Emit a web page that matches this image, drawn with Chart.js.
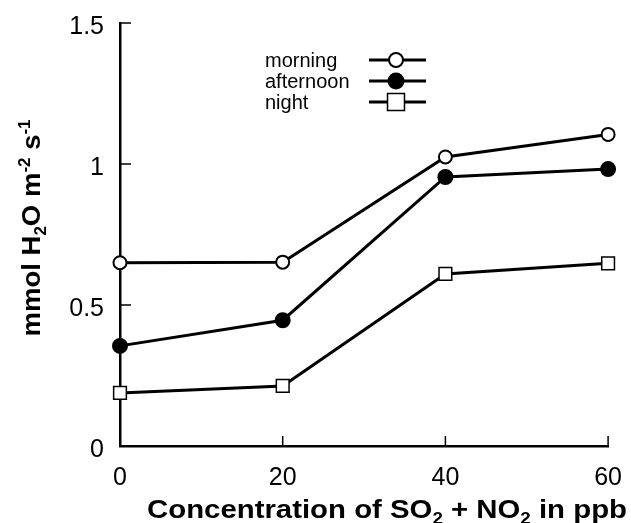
<!DOCTYPE html>
<html>
<head>
<meta charset="utf-8">
<script src="https://cdn.jsdelivr.net/npm/chart.js@4/dist/chart.umd.min.js"></script>
<style>
    body { margin: 0; background: #fff; }
    #wrap { width: 631px; height: 523px; }
</style>
</head>
<body>
<div id="wrap"><canvas id="transpChart" width="631" height="523"></canvas></div>
<script>
// Data
const concentrations = [0, 20, 40, 60];
const morning = [0.65, 0.652, 1.025, 1.105];
const afternoon = [0.355, 0.446, 0.954, 0.982];
const night = [0.188, 0.213, 0.61, 0.648];
const xTickValues = [0, 20, 40, 60];
const yTickValues = [0, 0.5, 1, 1.5];
const seriesNames = ['morning', 'afternoon', 'night'];

const FONT = "'Liberation Sans', Arial, sans-serif";

function toPoints(values) {
    return values.map((v, i) => ({ x: concentrations[i], y: v }));
}

// Draw text made of runs (normal / sub / sup) starting at x along the baseline
function drawRuns(ctx, runs, x, y, size) {
    let cx = x;
    runs.forEach(r => {
        const s = r.pos ? Math.round(size * 0.62) : size;
        ctx.font = 'bold ' + s + 'px ' + FONT;
        let dy = 0;
        if (r.pos === 'sub') dy = size * 0.22;
        if (r.pos === 'sup') dy = -size * 0.4;
        ctx.fillText(r.t, cx, y + dy);
        cx += ctx.measureText(r.t).width;
    });
    return cx - x;
}

function measureRuns(ctx, runs, size) {
    let w = 0;
    runs.forEach(r => {
        const s = r.pos ? Math.round(size * 0.62) : size;
        ctx.font = 'bold ' + s + 'px ' + FONT;
        w += ctx.measureText(r.t).width;
    });
    return w;
}

const xTitleRuns = [
    { t: 'Concentration of SO' }, { t: '2', pos: 'sub' },
    { t: ' + NO' }, { t: '2', pos: 'sub' }, { t: ' in ppb' }
];
const yTitleRuns = [
    { t: 'mmol H' }, { t: '2', pos: 'sub' }, { t: 'O m' },
    { t: '-2', pos: 'sup' }, { t: ' s' }, { t: '-1', pos: 'sup' }
];

const figurePlugin = {
    id: 'figureDecor',
    afterDraw(chart) {
        const ctx = chart.ctx;
        const area = chart.chartArea;
        const xs = chart.scales.x;
        const ys = chart.scales.y;

        // inward tick marks
        ctx.save();
        ctx.strokeStyle = '#000';
        ctx.lineWidth = 1.5;
        ctx.beginPath();
        yTickValues.slice(1).forEach(v => {
            const py = ys.getPixelForValue(v);
            ctx.moveTo(area.left, py);
            ctx.lineTo(area.left + 11, py);
        });
        xTickValues.slice(1).forEach(v => {
            const px = xs.getPixelForValue(v);
            ctx.moveTo(px, area.bottom);
            ctx.lineTo(px, area.bottom - 10);
        });
        ctx.stroke();
        ctx.restore();

        // axis titles
        ctx.save();
        ctx.fillStyle = '#000';
        ctx.textBaseline = 'alphabetic';
        const xSize = 25;
        const xw = measureRuns(ctx, xTitleRuns, xSize);
        const xTarget = 480;
        ctx.translate(387 - xTarget / 2, 518);
        ctx.scale(xTarget / xw, 1);
        drawRuns(ctx, xTitleRuns, 0, 0, xSize);
        ctx.restore();

        ctx.save();
        ctx.fillStyle = '#000';
        const ySize = 26;
        const yw = measureRuns(ctx, yTitleRuns, ySize);
        const yTarget = 217;
        ctx.translate(40, 228 + yTarget / 2);
        ctx.rotate(-Math.PI / 2);
        ctx.scale(yTarget / yw, 1);
        drawRuns(ctx, yTitleRuns, 0, 0, ySize);
        ctx.restore();

        // legend: name then a line sample with its marker
        const rows = [60, 81, 102];
        ctx.save();
        chart.data.datasets.forEach((ds, i) => {
            const y = rows[i];
            ctx.fillStyle = '#000';
            ctx.font = '20px ' + FONT;
            ctx.textBaseline = 'middle';
            ctx.fillText(ds.label, 265, y + 1);
            ctx.strokeStyle = '#000';
            ctx.lineWidth = 3;
            ctx.beginPath();
            ctx.moveTo(369, y);
            ctx.lineTo(426, y);
            ctx.stroke();
            ctx.fillStyle = ds.pointBackgroundColor;
            ctx.lineWidth = ds.pointBorderWidth;
            Chart.helpers.drawPoint(ctx, {
                pointStyle: ds.pointStyle,
                radius: ds.legendRadius,
                borderWidth: ds.pointBorderWidth,
                rotation: 0
            }, 396, y);
        });
        ctx.restore();
    }
};

new Chart(document.getElementById('transpChart'), {
    type: 'line',
    data: {
        datasets: [
            {
                label: seriesNames[0],
                data: toPoints(morning),
                borderColor: '#000',
                borderWidth: 3,
                clip: false,
                pointStyle: 'circle',
                pointRadius: 6.5,
                legendRadius: 7,
                pointBackgroundColor: '#fff',
                pointBorderColor: '#000',
                pointBorderWidth: 2
            },
            {
                label: seriesNames[1],
                data: toPoints(afternoon),
                borderColor: '#000',
                borderWidth: 3,
                clip: false,
                pointStyle: 'circle',
                pointRadius: 7,
                legendRadius: 7.5,
                pointBackgroundColor: '#000',
                pointBorderColor: '#000',
                pointBorderWidth: 2
            },
            {
                label: seriesNames[2],
                data: toPoints(night),
                borderColor: '#000',
                borderWidth: 3,
                clip: false,
                pointStyle: 'rect',
                pointRadius: 9,
                legendRadius: 12,
                pointBackgroundColor: '#fff',
                pointBorderColor: '#000',
                pointBorderWidth: 1.5
            }
        ]
    },
    options: {
        responsive: false,
        animation: false,
        layout: { padding: { top: 22, right: 19, left: 0, bottom: 0 } },
        plugins: {
            legend: { display: false },
            tooltip: { enabled: false }
        },
        scales: {
            x: {
                type: 'linear',
                min: 0,
                max: 60,
                afterBuildTicks: (scale) => {
                    scale.ticks = xTickValues.map(v => ({ value: v }));
                },
                afterFit: (scale) => { scale.height = 77; },
                grid: { display: false },
                border: { display: true, color: '#000', width: 2.5 },
                ticks: {
                    color: '#000',
                    font: { family: FONT, size: 25 },
                    padding: 9,
                    maxRotation: 0
                }
            },
            y: {
                min: 0,
                max: 1.5,
                afterBuildTicks: (scale) => {
                    scale.ticks = yTickValues.map(v => ({ value: v }));
                },
                afterFit: (scale) => { scale.width = 120; },
                grid: { display: false },
                border: { display: true, color: '#000', width: 2.5 },
                ticks: {
                    color: '#000',
                    font: { family: FONT, size: 25 },
                    padding: 8,
                    labelOffset: 4,
                    callback: (v) => String(v)
                }
            }
        }
    },
    plugins: [figurePlugin]
});
</script>
</body>
</html>
